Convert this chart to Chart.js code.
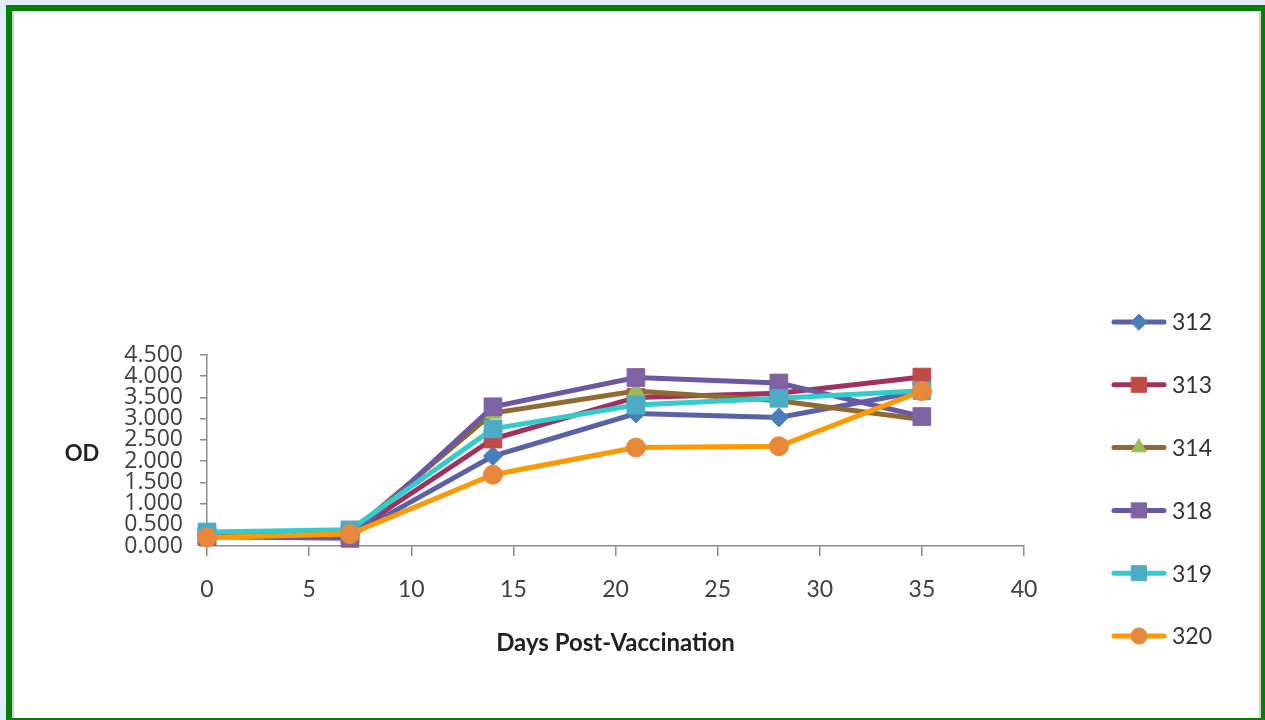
<!DOCTYPE html>
<html>
<head>
<meta charset="utf-8">
<script src="https://cdn.jsdelivr.net/npm/chart.js@4"></script>
<style>
  body { margin: 0; background: #e3ecfb; }
  #frame {
    position: absolute; left: 6px; top: 5px;
    width: 1249px; height: 707px;
    border-left: 6px solid #008000; border-top: 6px solid #008000;
    border-right: 4px solid #008000; border-bottom: 2px solid #008000;
    background: #fff;
    box-shadow: inset 2px 0 0 #cfcfcf, inset -2px 0 0 #d4d4d4;
  }
  canvas { position: absolute; left: 0; top: 0; }
</style>
</head>
<body>
<div id="frame"><canvas id="odChart" width="1249" height="707"></canvas></div>
<script>
// Days post-vaccination (x values)
const days = [0, 7, 14, 21, 28, 35];

// OD readings per animal
const od312 = [0.25, 0.24, 2.12, 3.12, 3.03, 3.65];
const od313 = [0.24, 0.28, 2.52, 3.50, 3.60, 3.98];
const od314 = [0.26, 0.30, 3.13, 3.65, 3.42, 2.98];
const od318 = [0.22, 0.18, 3.28, 3.97, 3.84, 3.05];
const od319 = [0.33, 0.38, 2.76, 3.32, 3.48, 3.66];
const od320 = [0.20, 0.28, 1.68, 2.32, 2.35, 3.65];

const seriesNames = ['312', '313', '314', '318', '319', '320'];
const seriesValues = [od312, od313, od314, od318, od319, od320];

// line colour, marker colour, marker shape, marker radius
const styles = [
    { line: '#5a62a6', mark: '#4a7ebb', shape: 'rectRot', r: 9.5 },
    { line: '#a0305e', mark: '#be4b48', shape: 'rect', r: 12.5 },
    { line: '#8f6b32', mark: '#9bbb59', shape: 'triangle', r: 10 },
    { line: '#6b58a2', mark: '#7f62a1', shape: 'rect', r: 12.5 },
    { line: '#33cccc', mark: '#4bacc6', shape: 'rect', r: 12.5 },
    { line: '#ff9900', mark: '#e8883a', shape: 'circle', r: 9.5 }
];

const datasets = seriesNames.map((name, i) => ({
    label: name,
    data: days.map((d, j) => ({ x: d, y: seriesValues[i][j] })),
    borderColor: styles[i].line,
    borderWidth: 5,
    pointStyle: styles[i].shape,
    pointRadius: styles[i].r,
    pointBackgroundColor: styles[i].mark,
    pointBorderColor: styles[i].mark,
    pointBorderWidth: 1,
    tension: 0,
    clip: false,
    order: seriesNames.length - i
}));

// legend on the right, line with marker, like the spreadsheet one
const sideLegend = {
    id: 'sideLegend',
    afterDraw(chart) {
        const ctx = chart.ctx;
        ctx.save();
        ctx.font = '23px Lato';
        ctx.textBaseline = 'middle';
        ctx.textAlign = 'left';
        datasets.forEach((ds, i) => {
            const y = 311 + i * 62.8;
            ctx.strokeStyle = styles[i].line;
            ctx.lineWidth = 5;
            ctx.lineCap = 'round';
            ctx.beginPath();
            ctx.moveTo(1102, y);
            ctx.lineTo(1152, y);
            ctx.stroke();
            ctx.fillStyle = styles[i].mark;
            ctx.strokeStyle = styles[i].mark;
            ctx.lineWidth = 1;
            Chart.helpers.drawPoint(ctx, {
                pointStyle: styles[i].shape,
                rotation: 0,
                radius: styles[i].r * 0.85,
                borderWidth: 1
            }, 1127, y);
            ctx.fillStyle = '#333';
            ctx.fillText(ds.label, 1160, y + 1);
        });
        // horizontal "OD" axis title
        const area = chart.chartArea;
        ctx.font = 'bold 22px Lato';
        ctx.fillStyle = '#222';
        ctx.textAlign = 'center';
        ctx.fillText('OD', 70, (area.top + area.bottom) / 2 + 3);
        ctx.restore();
    }
};

new Chart(document.getElementById('odChart').getContext('2d'), {
    type: 'line',
    data: { datasets: datasets },
    plugins: [sideLegend],
    options: {
        responsive: false,
        animation: false,
        layout: { padding: { left: 0, top: 344, right: 237, bottom: 0 } },
        plugins: {
            legend: { display: false },
            tooltip: { enabled: false }
        },
        scales: {
            x: {
                type: 'linear',
                min: 0,
                max: 40,
                afterFit: s => { s.height = 172; },
                ticks: {
                    stepSize: 5,
                    padding: 20,
                    color: '#404040',
                    font: { family: 'Lato', size: 23 }
                },
                grid: { drawOnChartArea: false, tickLength: 10, color: '#8c8c8c', lineWidth: 1.5 },
                border: { color: '#8c8c8c', width: 1.5 },
                title: {
                    display: true,
                    text: 'Days Post-Vaccination',
                    color: '#222',
                    font: { family: 'Lato', size: 24, weight: 'bold' },
                    padding: { top: 0, bottom: 60 }
                }
            },
            y: {
                min: 0,
                max: 4.5,
                afterFit: s => { s.width = 195; },
                ticks: {
                    stepSize: 0.5,
                    autoSkip: false,
                    padding: 17,
                    color: '#404040',
                    font: { family: 'Open Sans', size: 23 },
                    callback: v => v.toFixed(3)
                },
                grid: { drawOnChartArea: false, tickLength: 7, color: '#8c8c8c', lineWidth: 1.5 },
                border: { color: '#8c8c8c', width: 1.5 }
            }
        }
    }
});
</script>
</body>
</html>
